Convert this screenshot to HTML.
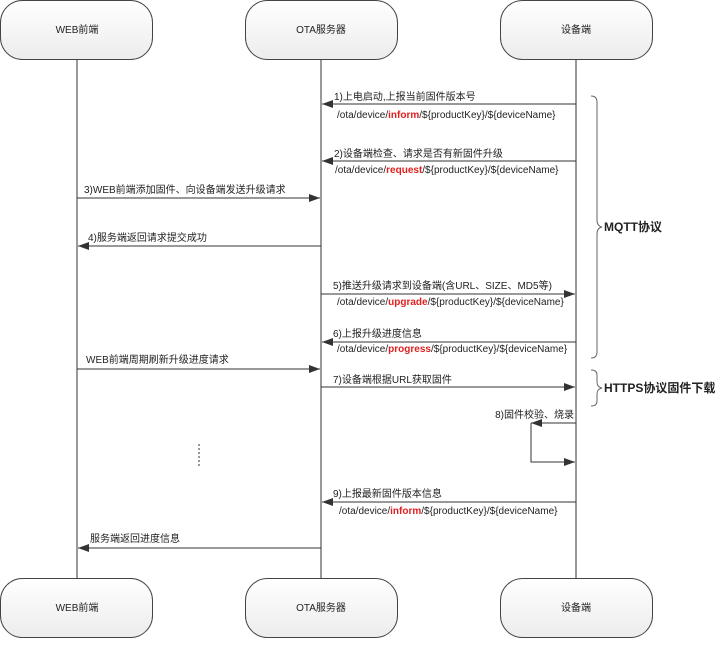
<!DOCTYPE html>
<html><head><meta charset="utf-8"><style>
body{margin:0;background:#fff}
svg text{font-family:"Liberation Sans","Noto Sans CJK SC",sans-serif;font-size:10px;fill:#222}
</style></head><body>
<svg width="719" height="648" viewBox="0 0 719 648" xmlns="http://www.w3.org/2000/svg">
<defs>
<linearGradient id="g" x1="0" y1="0" x2="0" y2="1"><stop offset="0" stop-color="#ffffff"/><stop offset="1" stop-color="#ececec"/></linearGradient>
<marker id="a" markerWidth="12" markerHeight="10" refX="11" refY="4" orient="auto" markerUnits="userSpaceOnUse"><path d="M0,0 L11,4 L0,8 z" fill="#333"/></marker>
</defs>
<g stroke="#333" stroke-width="1" fill="none">
<line x1="77" y1="60" x2="77" y2="578"/>
<line x1="321" y1="60" x2="321" y2="578"/>
<line x1="576" y1="60" x2="576" y2="578"/>
</g>
<g fill="url(#g)" stroke="#444" stroke-width="1">
<rect x="0.5" y="0.5" width="152" height="59" rx="22"/>
<rect x="245.5" y="0.5" width="152" height="59" rx="22"/>
<rect x="500.5" y="0.5" width="152" height="59" rx="22"/>
<rect x="0.5" y="578.5" width="152" height="59" rx="22"/>
<rect x="245.5" y="578.5" width="152" height="59" rx="22"/>
<rect x="500.5" y="578.5" width="152" height="59" rx="22"/>
</g>
<g text-anchor="middle">
<text x="77" y="33">WEB前端</text><text x="321" y="33">OTA服务器</text><text x="576" y="33">设备端</text>
<text x="77" y="611">WEB前端</text><text x="321" y="611">OTA服务器</text><text x="576" y="611">设备端</text>
</g>
<g stroke="#333" stroke-width="1" marker-end="url(#a)">
<line x1="576" y1="104" x2="322" y2="104"/>
<line x1="576" y1="161" x2="322" y2="161"/>
<line x1="77" y1="198" x2="320" y2="198"/>
<line x1="321" y1="246" x2="78" y2="246"/>
<line x1="321" y1="294" x2="575" y2="294"/>
<line x1="576" y1="342" x2="322" y2="342"/>
<line x1="77" y1="369" x2="320" y2="369"/>
<line x1="321" y1="387" x2="575" y2="387"/>
<line x1="576" y1="423" x2="531" y2="423"/>
<polyline points="531,423 531,462 575,462" fill="none"/>
<line x1="576" y1="502" x2="322" y2="502"/>
<line x1="321" y1="548" x2="78" y2="548"/>
</g>
<line x1="199" y1="444" x2="199" y2="466" stroke="#333" stroke-dasharray="2,2"/>
<path d="M591,96 q6,0 6,6 v118 q0,6 5,7 q-5,1 -5,7 v118 q0,6 -6,6" fill="none" stroke="#666"/>
<path d="M591,370 q6,0 6,5 v7 q0,5 5,6 q-5,1 -5,6 v7 q0,5 -6,5" fill="none" stroke="#666"/>
<text x="604" y="231" style="font-size:12px;font-weight:bold">MQTT协议</text>
<text x="604" y="392" style="font-size:12px;font-weight:bold">HTTPS协议固件下载</text>
<text x="334" y="100">1)上电启动,上报当前固件版本号</text>
<text x="337" y="118">/ota/device/<tspan fill="#e02020" font-weight="bold">inform</tspan>/${productKey}/${deviceName}</text>
<text x="334" y="157">2)设备端检查、请求是否有新固件升级</text>
<text x="335" y="173">/ota/device/<tspan fill="#e02020" font-weight="bold">request</tspan>/${productKey}/${deviceName}</text>
<text x="84" y="193">3)WEB前端添加固件、向设备端发送升级请求</text>
<text x="88" y="241">4)服务端返回请求提交成功</text>
<text x="333" y="289">5)推送升级请求到设备端(含URL、SIZE、MD5等)</text>
<text x="337" y="305">/ota/device/<tspan fill="#e02020" font-weight="bold">upgrade</tspan>/${productKey}/${deviceName}</text>
<text x="333" y="337">6)上报升级进度信息</text>
<text x="337" y="352">/ota/device/<tspan fill="#e02020" font-weight="bold">progress</tspan>/${productKey}/${deviceName}</text>
<text x="86" y="363">WEB前端周期刷新升级进度请求</text>
<text x="333" y="383">7)设备端根据URL获取固件</text>
<text x="574" y="418" text-anchor="end">8)固件校验、烧录</text>
<text x="333" y="497">9)上报最新固件版本信息</text>
<text x="339" y="514">/ota/device/<tspan fill="#e02020" font-weight="bold">inform</tspan>/${productKey}/${deviceName}</text>
<text x="90" y="542">服务端返回进度信息</text>
</svg>
</body></html>
